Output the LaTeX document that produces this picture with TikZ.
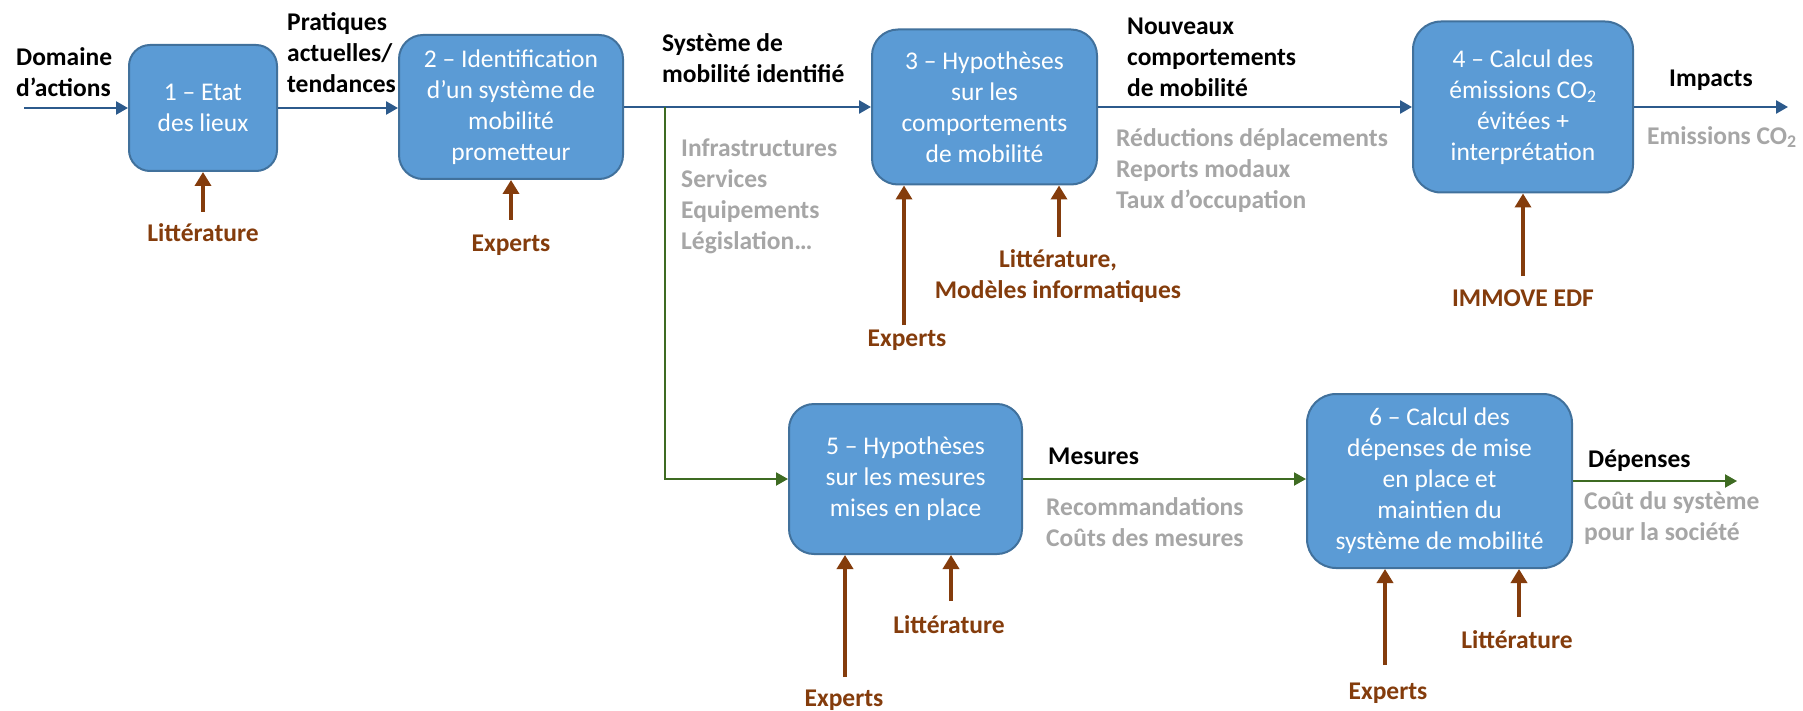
\documentclass[tikz,border=0pt]{standalone}
\usepackage{fontspec}
\setmainfont{Carlito}
\usetikzlibrary{arrows.meta}

\definecolor{boxfill}{HTML}{5B9BD5}
\definecolor{boxline}{HTML}{41719C}
\definecolor{flowblue}{HTML}{2C5A8C}
\definecolor{flowgreen}{HTML}{3E6B22}
\definecolor{srcbrown}{HTML}{843C0C}
\definecolor{notegray}{HTML}{A6A6A6}

\begin{document}
\begin{tikzpicture}[x=1pt,y=-1pt,
  every node/.style={inner sep=0pt, font=\fontsize{25.5}{31}\selectfont},
  stage/.style={draw=boxline, line width=2pt, fill=boxfill, text=white, align=center},
  flowlbl/.style={font=\fontsize{25.5}{31}\selectfont\bfseries, align=left, anchor=west},
  notelbl/.style={flowlbl, text=notegray},
  srclbl/.style={font=\fontsize{25.5}{31}\selectfont\bfseries, text=srcbrown, align=center},
  blueflow/.style={draw=flowblue, line width=2.5pt, -{Triangle[length=12pt,width=13pt]}},
  greenflow/.style={draw=flowgreen, line width=2pt, -{Triangle[length=12pt,width=13pt]}},
  srcarrow/.style={draw=srcbrown, line width=4pt, -{Triangle[length=14pt,width=16pt]}},
]
\useasboundingbox[fill=white] (0,0) rectangle (1803,711);

% process stages
\node[stage, minimum width=148pt, minimum height=126pt, rounded corners=21pt] (b1) at (203,108)
  {1 – Etat\\des lieux};
\node[stage, minimum width=224pt, minimum height=144pt, rounded corners=24pt] (b2) at (511,107)
  {2 – Identification\\d’un système de\\mobilité\\prometteur};
\node[stage, minimum width=225pt, minimum height=155pt, rounded corners=26pt] (b3) at (984.5,107)
  {3 – Hypothèses\\sur les\\comportements\\de mobilité};
\node[stage, minimum width=220pt, minimum height=171pt, rounded corners=28pt] (b4) at (1523,107)
  {4 – Calcul des\\émissions CO\textsubscript{2}\\évitées +\\interprétation};
\node[stage, minimum width=233pt, minimum height=150pt, rounded corners=25pt] (b5) at (905.5,479)
  {5 – Hypothèses\\sur les mesures\\mises en place};
\node[stage, minimum width=265pt, minimum height=174pt, rounded corners=29pt] (b6) at (1439.5,481)
  {6 – Calcul des\\dépenses de mise\\en place et\\maintien du\\système de mobilité};

% main flow
\coordinate (in) at (24,108);
\coordinate (split) at (665,107);
\coordinate (impout) at (1788,107);
\coordinate (costout) at (1737,481);
\draw[blueflow] (in) -- (in -| b1.west);
\draw[blueflow] (b1.east) -- (b1.east -| b2.west);
\draw[blueflow] (b2.east) -- (b2.east -| b3.west);
\draw[blueflow] (b3.east) -- (b3.east -| b4.west);
\draw[blueflow] (b4.east) -- (impout);

% measures branch
\draw[greenflow] (split) |- (b5.west);
\draw[greenflow] (b5.east) -- (b5.east -| b6.west);
\draw[greenflow] (b6.east) -- (costout);

% flow labels
\node[flowlbl] (domaine) at (16,72.5) {Domaine\\d’actions};
\node[flowlbl] (pratiques) at (287,52.5) {Pratiques\\actuelles/\\tendances};
\node[flowlbl] (systeme) at (662,58) {Système de\\mobilité identifié};
\node[notelbl] (leviers) at (681,196.5) {Infrastructures\\Services\\Equipements\\Législation…};
\node[flowlbl] (nouveaux) at (1127,57) {Nouveaux\\comportements\\de mobilité};
\node[notelbl] (effets) at (1116,171) {Réductions déplacements\\Reports modaux\\Taux d’occupation};
\node[flowlbl] (impacts) at (1669,80) {Impacts};
\node[notelbl] (emissions) at (1647,137) {Emissions CO\textsubscript{2}};
\node[flowlbl] (mesures) at (1048,456) {Mesures};
\node[notelbl] (recos) at (1046,522) {Recommandations\\Coûts des mesures};
\node[flowlbl] (depenses) at (1588,461) {Dépenses};
\node[notelbl] (cout) at (1584,518.5) {Coût du système\\pour la société};

% sources
\node[srclbl] (s1) at (203,233) {Littérature};
\node[srclbl] (s2) at (511,245) {Experts};
\node[srclbl] (s3a) at (907,340) {Experts};
\node[srclbl] (s3b) at (1058,276) {Littérature,\\Modèles informatiques};
\node[srclbl] (s4) at (1523,298) {IMMOVE EDF};
\node[srclbl] (s5a) at (844,700) {Experts};
\node[srclbl] (s5b) at (949,625) {Littérature};
\node[srclbl] (s6a) at (1388,693) {Experts};
\node[srclbl] (s6b) at (1517,640) {Littérature};

\coordinate (t1) at (203,212);
\coordinate (t2) at (511,220);
\coordinate (t3a) at (904,325);
\coordinate (t3b) at (1059,237);
\coordinate (t4) at (1523,276);
\coordinate (t5a) at (845,677);
\coordinate (t5b) at (951,601);
\coordinate (t6a) at (1385,665);
\coordinate (t6b) at (1519,617);
\draw[srcarrow] (t1) -- (t1 |- b1.south);
\draw[srcarrow] (t2) -- (t2 |- b2.south);
\draw[srcarrow] (t3a) -- (t3a |- b3.south);
\draw[srcarrow] (t3b) -- (t3b |- b3.south);
\draw[srcarrow] (t4) -- (t4 |- b4.south);
\draw[srcarrow] (t5a) -- (t5a |- b5.south);
\draw[srcarrow] (t5b) -- (t5b |- b5.south);
\draw[srcarrow] (t6a) -- (t6a |- b6.south);
\draw[srcarrow] (t6b) -- (t6b |- b6.south);
\end{tikzpicture}
\end{document}
